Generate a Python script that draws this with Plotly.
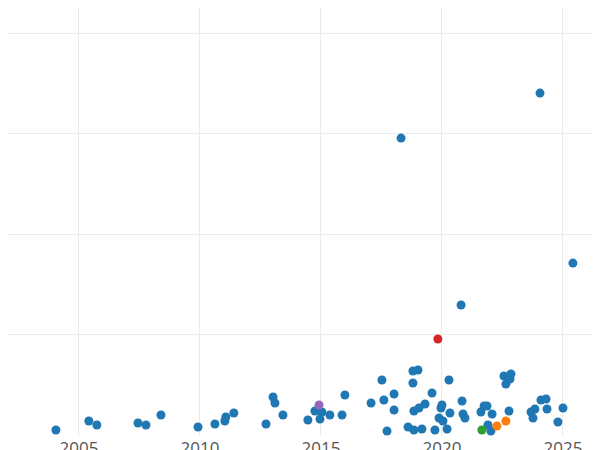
import plotly.graph_objects as go

px_x = [48,81,89,130,138,153,190,207,217,218,226,258,265,267,275,300,307,312,311,314,322,334,337,363,374,376,379,386,386,393,400,405,405,406,406,410,411,414,417,424,427,431,433,435,434,439,441,442,453,454,455,457,430,473,474,476,479,480,483,484,489,496,498,498,501,502,503,523,525,527,532,533,538,539,550,555,565]
px_y = [422,413,417,415,417,407,419,416,413,409,405,416,389,395,407,412,403,411,397,404,407,407,387,395,372,392,423,386,402,130,419,375,363,403,422,362,400,421,396,385,422,410,400,413,397,421,372,405,297,393,406,410,331,404,422,398,398,417,423,406,418,368,413,376,403,371,366,404,410,401,85,392,391,401,414,400,255]
groups = ["a"]*77
groups[18] = "p"; groups[52] = "r"; groups[54] = "g"; groups[60] = "o"; groups[62] = "o"

year = [round(2005 + (x - 71) / 24.2, 2) for x in px_x]
value = [round((427 - y) / 100.5 * 100, 1) for y in px_y]

colors = {"a": "#1f77b4", "p": "#9467bd", "r": "#d62728", "g": "#2ca02c", "o": "#ff7f0e"}

fig = go.Figure()
for g in ["a", "p", "r", "o", "g"]:
    xs = [year[i] for i in range(len(year)) if groups[i] == g]
    ys = [value[i] for i in range(len(year)) if groups[i] == g]
    fig.add_trace(go.Scatter(x=xs, y=ys, mode="markers", cliponaxis=False,
                             marker=dict(color=colors[g], size=9), showlegend=False))

fig.update_layout(template="plotly_white", width=600, height=450,
                  margin=dict(l=0, r=0, t=0, b=22, pad=0, autoexpand=False),
                  plot_bgcolor="white",
                  font=dict(family="Open Sans", size=17, color="#555"))
fig.update_xaxes(range=[2002.07, 2026.86], tickvals=[2005, 2010, 2015, 2020, 2025],
                 showgrid=True, gridcolor="#ebebeb", zeroline=False, ticklabelstandoff=0)
fig.update_yaxes(range=[-1, 425], tickvals=[0, 100, 200, 300, 400], showticklabels=False,
                 gridcolor="#ebebeb", zeroline=False)
fig.write_html("out.html")
